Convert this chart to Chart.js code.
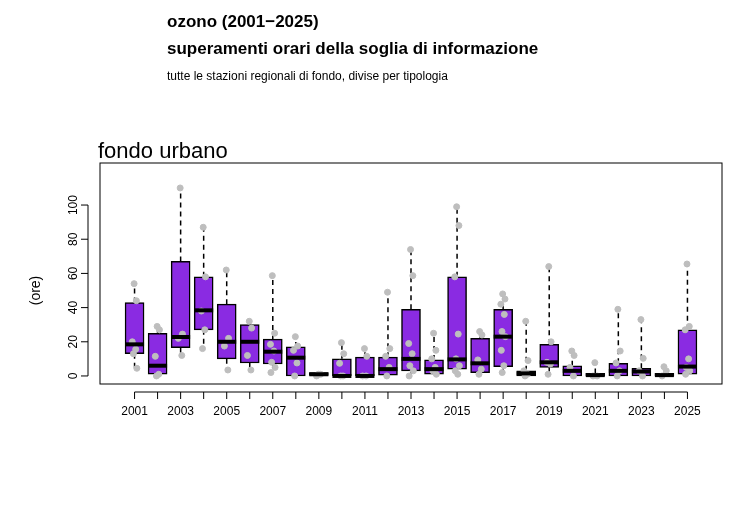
<!DOCTYPE html>
<html>
<head>
<meta charset="utf-8">
<script src="https://cdn.jsdelivr.net/npm/chart.js@4"></script>
<style>
  html, body { margin: 0; padding: 0; background: #fff; }
  #wrap { width: 750px; height: 509px; }
</style>
</head>
<body>
<div id="wrap"><canvas id="graph-area" width="750" height="509"></canvas></div>
<script>
const years = [2001, 2002, 2003, 2004, 2005, 2006, 2007, 2008, 2009, 2010, 2011, 2012, 2013,
  2014, 2015, 2016, 2017, 2018, 2019, 2020, 2021, 2022, 2023, 2024, 2025];
const mins    = [4.5, 0, 12, 16, 3.5, 3.5, 2, 0, 0, 0, 0, 0, 0, 1, 1, 1, 2, 0, 1, 0, 0, 0, 0, 0, 1];
const q1s     = [13, 1, 16.5, 27, 10, 7.6, 7, 0, 0.3, 0, 0, 0.5, 3, 1, 4, 2, 5.5, 0, 5, 0, 0, 0, 0, 0, 1];
const medians = [18.5, 6, 22.8, 38.4, 20, 20, 14.2, 10.7, 1, 0, 0, 4, 10, 4, 9.7, 7.4, 23, 1.5, 8, 3, 0.5, 3, 2.6, 0.5, 5.5];
const q3s     = [43, 25, 67, 58, 42, 30, 21.6, 17, 2, 10, 11, 11, 39, 9.4, 58, 22, 39, 3, 18.5, 6, 1.5, 7.4, 4.5, 1.5, 27];
const maxs    = [54, 29, 110, 87, 62, 32, 58.7, 23, 2, 19.5, 16, 49, 74, 25, 99, 26, 48, 32, 64, 14.6, 7.8, 39, 33, 5.4, 65.5];
const stationValues = [
  [54, 44, 20, 15.6, 13, 4.5],
  [29, 27, 11.5, 1, 0],
  [110, 24.5, 22, 12],
  [87, 58, 38, 27, 16],
  [62, 22, 17.5, 3.5],
  [32, 28, 12, 3.5],
  [58.7, 25, 18.5, 14.6, 8, 5, 2],
  [23, 17.5, 15, 7.6, 0],
  [1, 1, 0],
  [19.5, 13, 7.4, 0, 0],
  [16, 11.5, 0, 0],
  [49, 16, 11.5, 5, 0],
  [74, 58.7, 19, 13, 6, 3, 0],
  [25, 15, 10, 5, 3, 1],
  [99, 88, 58, 24.5, 10, 6, 3, 1],
  [26, 24, 9.4, 4, 1],
  [48, 45, 42, 36, 26, 23, 15, 6, 2],
  [32, 9, 3, 1, 0],
  [64, 20, 8, 7, 1],
  [14.6, 12, 5, 0],
  [7.8, 0, 0],
  [39, 14.6, 7.6, 3, 0],
  [33, 10.3, 3, 0],
  [5.4, 3, 0],
  [65.5, 29, 27, 10, 5, 3, 1]
];
const jitter = [-0.02, 0.08, -0.1, 0.05, -0.05, 0.1, -0.08, 0.03, -0.04];
const yTicks = [0, 20, 40, 60, 80, 100];
const xLabels = [2001, 2003, 2005, 2007, 2009, 2011, 2013, 2015, 2017, 2019, 2021, 2023, 2025];

const FONT = 'Arial, "Liberation Sans", sans-serif';

const points = [];
stationValues.forEach((vals, i) => {
  vals.forEach((v, j) => points.push({x: years[i] + jitter[j % jitter.length], y: v}));
});

const rDecor = {
  id: 'rDecor',
  beforeDatasetsDraw(chart) {
    const {ctx, scales: {x, y}} = chart;
    ctx.save();
    ctx.strokeStyle = '#000';
    ctx.lineWidth = 1.5;
    ctx.setLineDash([5, 4]);
    years.forEach((yr, i) => {
      const px = x.getPixelForValue(yr);
      ctx.beginPath();
      ctx.moveTo(px, y.getPixelForValue(q3s[i]));
      ctx.lineTo(px, y.getPixelForValue(maxs[i]));
      ctx.moveTo(px, y.getPixelForValue(q1s[i]));
      ctx.lineTo(px, y.getPixelForValue(mins[i]));
      ctx.stroke();
    });
    ctx.restore();
  },
  afterDatasetsDraw(chart) {
    const {ctx, scales: {x, y}} = chart;
    ctx.save();
    ctx.strokeStyle = '#000';
    ctx.lineWidth = 4;
    years.forEach((yr, i) => {
      const px = x.getPixelForValue(yr);
      const py = y.getPixelForValue(medians[i]);
      ctx.beginPath();
      ctx.moveTo(px - 9.5, py);
      ctx.lineTo(px + 9.5, py);
      ctx.stroke();
    });
    ctx.restore();
  },
  afterDraw(chart) {
    const {ctx, chartArea: a, scales: {x, y}} = chart;
    ctx.save();
    ctx.strokeStyle = '#000';
    ctx.lineWidth = 1;
    ctx.strokeRect(a.left, a.top, a.right - a.left, a.bottom - a.top);
    // y axis
    const ax = a.left - 12;
    ctx.beginPath();
    ctx.moveTo(ax, y.getPixelForValue(0));
    ctx.lineTo(ax, y.getPixelForValue(100));
    yTicks.forEach(t => {
      ctx.moveTo(ax, y.getPixelForValue(t));
      ctx.lineTo(ax - 7, y.getPixelForValue(t));
    });
    ctx.stroke();
    ctx.fillStyle = '#000';
    ctx.font = '12px ' + FONT;
    ctx.textAlign = 'center';
    ctx.textBaseline = 'alphabetic';
    yTicks.forEach(t => {
      ctx.save();
      ctx.translate(ax - 11, y.getPixelForValue(t));
      ctx.rotate(-Math.PI / 2);
      ctx.fillText(String(t), 0, 0);
      ctx.restore();
    });
    // x axis
    const ay = a.bottom + 8;
    ctx.beginPath();
    ctx.moveTo(x.getPixelForValue(years[0]), ay);
    ctx.lineTo(x.getPixelForValue(years[years.length - 1]), ay);
    years.forEach(yr => {
      ctx.moveTo(x.getPixelForValue(yr), ay);
      ctx.lineTo(x.getPixelForValue(yr), ay + 7);
    });
    ctx.stroke();
    ctx.textBaseline = 'top';
    xLabels.forEach(yr => ctx.fillText(String(yr), x.getPixelForValue(yr), ay + 14));
    // y title
    ctx.save();
    ctx.font = '14px ' + FONT;
    ctx.translate(36, (y.getPixelForValue(0) + y.getPixelForValue(100)) / 2);
    ctx.rotate(-Math.PI / 2);
    ctx.textBaseline = 'middle';
    ctx.fillText('(ore)', 0, 0);
    ctx.restore();
    // titles
    ctx.textAlign = 'left';
    ctx.textBaseline = 'alphabetic';
    ctx.font = 'bold 17px ' + FONT;
    ctx.fillText('ozono (2001\u22122025)', 167, 27);
    ctx.fillText('superamenti orari della soglia di informazione', 167, 54);
    ctx.font = '12px ' + FONT;
    ctx.fillText('tutte le stazioni regionali di fondo, divise per tipologia', 167, 80);
    ctx.font = '22px ' + FONT;
    ctx.fillText('fondo urbano', 98, 158);
    ctx.restore();
  }
};

new Chart(document.querySelector('#graph-area').getContext('2d'), {
  type: 'bar',
  data: {
    datasets: [
      {
        type: 'scatter',
        data: points,
        backgroundColor: '#bebebe',
        borderColor: '#bebebe',
        pointRadius: 3,
        order: 0
      },
      {
        type: 'bar',
        data: years.map((yr, i) => ({x: yr, y: [q1s[i], q3s[i]]})),
        backgroundColor: '#8a2be2',
        borderColor: '#000',
        borderWidth: 1.5,
        borderSkipped: false,
        barThickness: 19,
        order: 1
      }
    ]
  },
  options: {
    responsive: false,
    animation: false,
    layout: {padding: {left: 100, right: 28, top: 163, bottom: 125}},
    plugins: {legend: {display: false}, tooltip: {enabled: false}},
    scales: {
      x: {type: 'linear', min: 1999.5, max: 2026.5, offset: false, display: false},
      y: {min: -4.7, max: 124.6, display: false}
    }
  },
  plugins: [rDecor]
});
</script>
</body>
</html>
